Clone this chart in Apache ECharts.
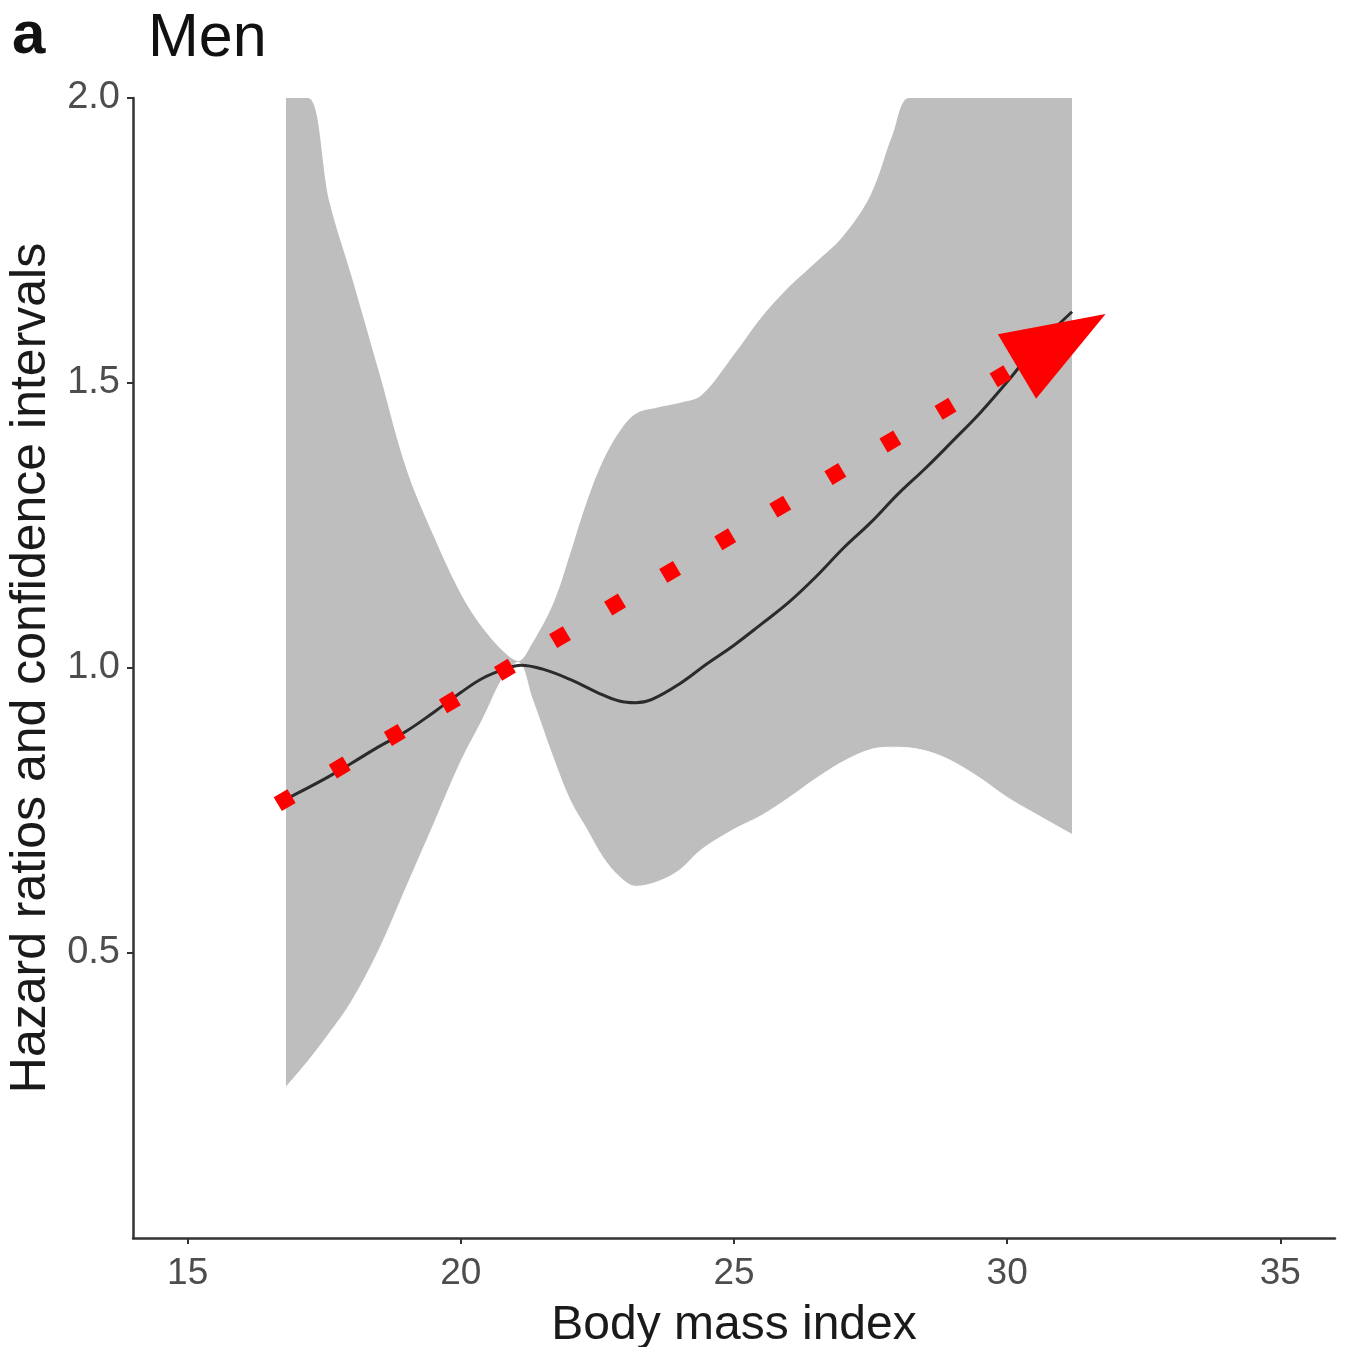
<!DOCTYPE html>
<html>
<head>
<meta charset="utf-8">
<script src="https://cdn.jsdelivr.net/npm/echarts@6/dist/echarts.min.js"></script>
<style>
html, body { margin: 0; padding: 0; background: #fff; }
#chart { width: 1345px; height: 1347px; }
</style>
</head>
<body>
<div id="chart"></div>
<script>
// confidence band (BMI vs hazard ratio)
var bandX   = [16.8, 17.2, 17.6, 18.0, 18.5, 19.0, 19.5, 20.0, 20.4, 20.8, 21.05, 21.3, 21.7, 22.0, 22.3, 22.6, 22.9, 23.2, 23.6, 24.0, 24.4, 25.0, 25.5, 26.0, 26.5, 27.0, 27.5, 27.9, 28.2, 28.6, 29.0, 29.5, 30.0, 30.5, 31.187];
var upperCI = [2.0, 2.0, 1.816, 1.687, 1.52, 1.35, 1.232, 1.13, 1.07, 1.027, 1.012, 1.042, 1.115, 1.2, 1.29, 1.363, 1.414, 1.446, 1.457, 1.465, 1.478, 1.55, 1.615, 1.668, 1.712, 1.758, 1.83, 1.935, 2.0, 2.0, 2.0, 2.0, 2.0, 2.0, 2.0];
var lowerCI = [0.265, 0.31, 0.36, 0.415, 0.505, 0.615, 0.725, 0.836, 0.91, 0.988, 1.01, 0.948, 0.84, 0.768, 0.718, 0.668, 0.634, 0.617, 0.625, 0.645, 0.681, 0.717, 0.741, 0.772, 0.806, 0.836, 0.857, 0.861, 0.86, 0.852, 0.836, 0.807, 0.773, 0.745, 0.708];

// hazard ratio curve
var hrX = [16.8, 17.5, 18.0, 18.5, 19.0, 19.5, 20.0, 20.4, 20.8, 21.1, 21.5, 22.0, 22.5, 22.9, 23.2, 23.5, 24.0, 24.5, 25.0, 25.5, 26.0, 26.5, 27.0, 27.5, 28.0, 28.5, 29.0, 29.5, 30.0, 30.5, 31.187];
var hrY = [0.77, 0.805, 0.833, 0.862, 0.889, 0.922, 0.957, 0.982, 0.998, 1.005, 0.998, 0.98, 0.957, 0.942, 0.939, 0.945, 0.972, 1.007, 1.04, 1.077, 1.115, 1.16, 1.21, 1.255, 1.305, 1.35, 1.398, 1.447, 1.502, 1.56, 1.625];

var xTicks = [15, 20, 25, 30, 35];
var yTicks = [0.5, 1.0, 1.5, 2.0];

// red dotted trend arrow (start, end)
var arrowFrom = [16.65, 0.761];
var arrowTo = [30.99, 1.575];

var upperData = bandX.map(function (x, i) { return [x, upperCI[i]]; });
var lowerData = bandX.map(function (x, i) { return [x, lowerCI[i]]; });
var hrData = hrX.map(function (x, i) { return [x, hrY[i]]; });

var font = "'Liberation Sans', Arial, Helvetica, sans-serif";
var chart = echarts.init(document.getElementById('chart'));

// the band: grey fill down from the upper bound, then white fill down from the lower bound
var option = {
    animation: false,
    backgroundColor: '#ffffff',
    title: [
        {
            text: 'a',
            left: 12,
            top: 6,
            padding: 0,
            textStyle: { fontFamily: font, fontSize: 60, fontWeight: 'bold', color: '#111' }
        },
        {
            text: 'Men',
            left: 148,
            top: 9,
            padding: 0,
            textStyle: { fontFamily: font, fontSize: 61, fontWeight: 'normal', color: '#111' }
        }
    ],
    grid: { left: 133, right: 10, top: 98, bottom: 109, outerBoundsMode: 'none' },
    xAxis: {
        type: 'value',
        z: 10,
        min: 14,
        max: 36,
        name: 'Body mass index',
        nameLocation: 'middle',
        nameGap: 64,
        nameTextStyle: { fontFamily: font, fontSize: 48, color: '#1a1a1a' },
        axisLine: { lineStyle: { color: '#333', width: 2.5 } },
        axisTick: { show: true, length: 6, customValues: xTicks, lineStyle: { color: '#333', width: 2 } },
        axisLabel: { customValues: xTicks, margin: 17, fontFamily: font, fontSize: 37, color: '#4d4d4d' },
        splitLine: { show: false }
    },
    yAxis: {
        type: 'value',
        z: 10,
        min: 0,
        max: 2,
        name: 'Hazard ratios and confidence intervals',
        nameLocation: 'middle',
        nameGap: 76,
        nameTextStyle: { fontFamily: font, fontSize: 50, color: '#1a1a1a' },
        axisLine: { show: true, lineStyle: { color: '#333', width: 2.5 } },
        axisTick: { show: true, length: 6, customValues: yTicks, lineStyle: { color: '#333', width: 2 } },
        axisLabel: {
            customValues: yTicks,
            margin: 13,
            fontFamily: font,
            fontSize: 38,
            color: '#4d4d4d',
            formatter: function (v) { return v.toFixed(1); }
        },
        splitLine: { show: false }
    },
    series: [
        {
            name: 'upper',
            type: 'line',
            data: upperData,
            smooth: 0.35,
            symbol: 'none',
            lineStyle: { width: 0, opacity: 0 },
            areaStyle: { color: '#bebebe', opacity: 1, origin: 'start' },
            silent: true
        },
        {
            name: 'lower',
            type: 'line',
            data: lowerData,
            smooth: 0.35,
            symbol: 'none',
            lineStyle: { color: '#ffffff', width: 1 },
            areaStyle: { color: '#ffffff', opacity: 1, origin: 'start' },
            silent: true
        },
        {
            name: 'HR',
            type: 'line',
            data: hrData,
            smooth: 0.4,
            symbol: 'none',
            lineStyle: { color: '#2b2b2b', width: 3 },
            silent: true,
            markLine: {
                silent: true,
                symbol: ['none', 'triangle'],
                symbolSize: [75, 103],
                label: { show: false },
                lineStyle: { color: '#ff0000', width: 16, type: [16, 48], cap: 'butt' },
                emphasis: { disabled: true },
                data: [[{ coord: arrowFrom }, { coord: arrowTo }]]
            }
        }
    ]
};

chart.setOption(option);
</script>
</body>
</html>
